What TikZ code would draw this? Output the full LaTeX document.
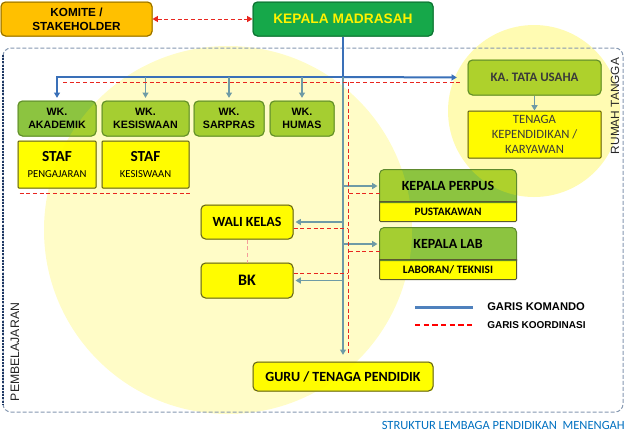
\documentclass[tikz,border=0pt]{standalone}
\usepackage{fontspec}
\setmainfont{Liberation Sans}
\newfontfamily\calib{Carlito}
\usetikzlibrary{arrows.meta}
\pgfdeclarelayer{bg}
\pgfdeclarelayer{mid}
\pgfsetlayers{bg,mid,main}
\definecolor{gfill}{HTML}{8CC440}
\definecolor{gline}{HTML}{5E8A2E}
\definecolor{yfill}{HTML}{FFFF00}
\definecolor{yline}{HTML}{5A5A30}
\definecolor{ofill}{HTML}{FFC000}
\definecolor{oline}{HTML}{8C6A00}
\definecolor{kfill}{HTML}{16A84A}
\definecolor{kline}{HTML}{0E6B30}
\definecolor{cmdblue}{HTML}{3A70B8}
\definecolor{legblue}{HTML}{4F81BD}
\definecolor{subteal}{HTML}{6E9BA6}
\definecolor{koordred}{HTML}{E8261F}
\definecolor{framec}{HTML}{8497B0}
\definecolor{navyc}{HTML}{1F3864}
\definecolor{txtblue}{HTML}{0070C0}
\definecolor{dgrey}{HTML}{3A3A3A}
\tikzset{
 boxbase/.style={inner sep=0pt, align=center, line width=0.75pt},
 gbox/.style={boxbase, draw=gline, rounded corners=3.5pt},
 ybox/.style={boxbase, draw=yline, rounded corners=3.5pt},
 ysq/.style={boxbase, draw=yline, rounded corners=0.75pt},
 plain/.style={boxbase},
 cmd/.style={draw=cmdblue, line width=1.5pt},
 sub/.style={draw=subteal, line width=1.1pt},
 koord/.style={draw=koordred, line width=0.75pt, dash pattern=on 3pt off 2pt},
 tip/.style={-{Triangle[width=4.5pt,length=4pt]}},
 wkfont/.style={font=\bfseries\fontsize{8}{9.75}\selectfont},
 staffont/.style={font=\calib\bfseries\fontsize{11.5}{12.5}\selectfont},
 calb/.style={font=\calib\bfseries\fontsize{10.5}{12}\selectfont},
 calsmall/.style={font=\calib\bfseries\fontsize{8.5}{10}\selectfont},
}
\newcommand\bxfill[3]{\fill[#2,rounded corners=#3] (#1.south west) rectangle (#1.north east);}
\begin{document}
\begin{tikzpicture}[x=0.75pt,y=-0.75pt]
\useasboundingbox (0,0) rectangle (634,440);
% frame
\draw[framec, line width=0.75pt, dash pattern=on 3pt off 1.5pt, rounded corners=6pt] (3,48) rectangle (623,412);
\draw[navyc, line width=1pt, dash pattern=on 1.5pt off 0.9pt] (3,55) -- (3,405);

% top boxes
\node[boxbase, draw=oline, rounded corners=3.5pt, minimum width=113.25pt, minimum height=25.5pt,
  font=\bfseries\fontsize{8.8}{10.5}\selectfont] (komite) at (76.5,19) {KOMITE /\\STAKEHOLDER};
\node[boxbase, draw=kline, rounded corners=3.5pt, minimum width=135pt, minimum height=25.5pt,
  font=\bfseries\fontsize{10.3}{12}\selectfont, text=yellow] (kepala) at (343,19) {KEPALA MADRASAH};

% wakil
\node[gbox, wkfont, minimum width=58.5pt, minimum height=26.25pt] (wk1) at (57,118.5) {WK.\\AKADEMIK};
\node[gbox, wkfont, minimum width=65.25pt, minimum height=26.25pt] (wk2) at (145.5,118.5) {WK.\\KESISWAAN};
\node[gbox, wkfont, minimum width=52.5pt, minimum height=26.25pt] (wk3) at (229,118.5) {WK.\\SARPRAS};
\node[gbox, wkfont, minimum width=48pt, minimum height=26.25pt] (wk4) at (302,118.5) {WK.\\HUMAS};

\node[ysq, staffont, minimum width=58.5pt, minimum height=35.25pt] (staf1) at (57,164.5)
  {STAF\\[-1pt]{\mdseries\fontsize{8}{9}\selectfont PENGAJARAN}};
\node[ysq, staffont, minimum width=65.25pt, minimum height=35.25pt] (staf2) at (145.5,164.5)
  {STAF\\[-1pt]{\mdseries\fontsize{8}{9}\selectfont KESISWAAN}};

% tata usaha
\node[gbox, minimum width=99.75pt, minimum height=26.25pt, font=\calib\bfseries\fontsize{9.7}{11}\selectfont, text=dgrey] (ktu) at (534.5,77.5) {KA. TATA USAHA};
\node[ysq, minimum width=99.75pt, minimum height=35.25pt, font=\calib\fontsize{9.5}{11.25}\selectfont, text=dgrey] (tenaga) at (534.5,134.5) {TENAGA\\KEPENDIDIKAN /\\KARYAWAN};

% perpus & lab
\node[plain, calb, minimum width=102pt, minimum height=24pt] (perpus) at (448,186) {KEPALA PERPUS};
\node[plain, calsmall, minimum width=102pt, minimum height=14.25pt] (pustaka) at (448,211.5) {PUSTAKAWAN};
\node[plain, calb, minimum width=102pt, minimum height=24pt] (lab) at (448,244) {KEPALA LAB};
\node[plain, calsmall, minimum width=102pt, minimum height=14.25pt] (laboran) at (448,269.5) {LABORAN/ TEKNISI};

% wali, bk, guru
\node[ybox, calb, minimum width=69pt, minimum height=25.5pt] (wali) at (247,222) {WALI KELAS};
\node[ybox, font=\calib\bfseries\fontsize{12}{13}\selectfont, minimum width=69pt, minimum height=26.25pt] (bk) at (247,280.5) {BK};
\node[ybox, calb, minimum width=135pt, minimum height=21.75pt] (guru) at (343,376.5) {GURU / TENAGA PENDIDIK};

% borders of composite boxes
\foreach \n in {perpus,lab}{
  \draw[gline, line width=0.75pt] (\n.south west) [rounded corners=3.5pt] -- (\n.north west) -- (\n.north east) [sharp corners] -- (\n.south east) -- cycle;
}
\foreach \n in {pustaka,laboran}{
  \draw[yline, line width=0.75pt] (\n.north west) [rounded corners=0.75pt] -- (\n.south west) -- (\n.south east) [sharp corners] -- (\n.north east) -- cycle;
}

% fills on bottom layer
\begin{pgfonlayer}{bg}
\bxfill{komite}{ofill}{3.5pt}
\bxfill{kepala}{kfill}{3.5pt}
\foreach \n in {wk1,wk2,wk3,wk4,ktu}{\bxfill{\n}{gfill}{3.5pt}}
\foreach \n in {staf1,staf2,tenaga}{\bxfill{\n}{yfill}{0.75pt}}
\foreach \n in {wali,bk,guru}{\bxfill{\n}{yfill}{3.5pt}}
\foreach \n in {perpus,lab}{
  \fill[gfill] (\n.south west) [rounded corners=3.5pt] -- (\n.north west) -- (\n.north east) [sharp corners] -- (\n.south east) -- cycle;}
\foreach \n in {pustaka,laboran}{
  \fill[yfill] (\n.north west) [rounded corners=0.75pt] -- (\n.south west) -- (\n.south east) [sharp corners] -- (\n.north east) -- cycle;}
\end{pgfonlayer}

% circles
\begin{pgfonlayer}{mid}
\fill[yellow, opacity=0.22] (228,230) circle[radius=184];
\fill[yellow, opacity=0.3] (534,111) circle[radius=86];
\end{pgfonlayer}

% labels
\node[rotate=90, font=\fontsize{8.9}{10}\selectfont, text=black!85] (rt) at (615,106) {RUMAH TANGGA};
\node[rotate=90, font=\fontsize{9.2}{10}\selectfont, text=black!85] (pb) at (15,352) {PEMBELAJARAN};
\node[anchor=east, inner sep=0pt, text=txtblue, font=\calib\fontsize{9.4}{11}\selectfont] (title) at (625,425) {STRUKTUR LEMBAGA PENDIDIKAN\ \ MENENGAH};

% coordination komite <-> kepala
\draw[koord, {Triangle[width=4.5pt,length=4pt]}-{Triangle[width=4.5pt,length=4pt]}, koordred] (komite) -- (kepala);

% command lines
\coordinate (jn) at (343,77);
\draw[cmd] (kepala.south) -- (jn);
\draw[cmd, tip, cmdblue, shorten >=2pt] (jn) -| (wk1.north);
\draw[cmd, tip, cmdblue, shorten >=8pt] (jn) -- (ktu.west);
\foreach \n in {wk2,wk3,wk4}{
  \draw[sub, tip, subteal, shorten >=2pt] (\n.north |- jn) -- (\n.north);
}
\draw[sub, tip, subteal] (ktu.south) -- (tenaga.north);
\draw[sub, tip, subteal, shorten >=5pt] (jn) -- (guru.north);
\draw[sub, tip, subteal, shorten >=1.5pt] (jn |- perpus.west) -- (perpus.west);
\draw[sub, tip, subteal, shorten >=1.5pt] (jn |- lab.west) -- (lab.west);
\draw[sub, tip, subteal, shorten >=1.5pt] (jn |- wali.east) -- (wali.east);
\draw[sub, tip, subteal, shorten >=1.5pt] (jn |- bk.east) -- (bk.east);

% coordination lines
\coordinate (r0) at (63,82);
\coordinate (r1) at (460,82);
\coordinate (rj) at (348,82);
\draw[koord] (r0) -- (r1);
\draw[koord, shorten >=5pt] (rj) -- (rj |- guru.north);
\draw[koord] ([shift={(2,5)}]staf1.south west) -- ([yshift=-3.75pt]staf2.south east);
\coordinate (pk) at ([yshift=-5.25pt]perpus.west);
\draw[koord] (pk) -- (rj |- pk);
\coordinate (lk) at ([yshift=-5.25pt]lab.west);
\draw[koord] (lk) -- (rj |- lk);
\coordinate (wk) at ([yshift=-4.5pt]wali.east);
\draw[koord] (wk) -- (rj |- wk);
\coordinate (bkk) at ([yshift=4.9pt]bk.east);
\draw[koord] (bkk) -- (rj |- bkk);
\draw[koord, draw=koordred!45] (wali.south) -- (bk.north);

% legend
\coordinate (la1) at (415,307);
\coordinate (la2) at (473,307);
\draw[legblue, line width=2.25pt] (la1) -- (la2);
\node[anchor=west, inner sep=0pt, font=\bfseries\fontsize{8.4}{10}\selectfont] (lat) at (487,306.5) {GARIS KOMANDO};
\coordinate (lb1) at (415,325);
\coordinate (lb2) at (473,325);
\draw[red, line width=1pt, dash pattern=on 4pt off 2.5pt] (lb1) -- (lb2);
\node[anchor=west, inner sep=0pt, font=\bfseries\fontsize{7.5}{9}\selectfont] (lbt) at (487,325) {GARIS KOORDINASI};
\end{tikzpicture}
\end{document}
